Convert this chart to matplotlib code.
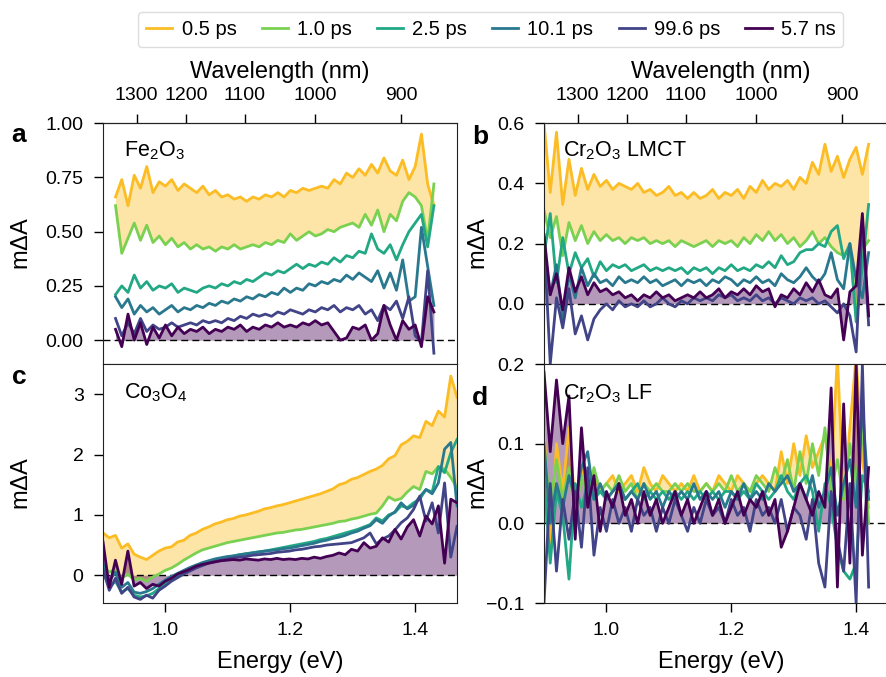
import matplotlib
matplotlib.use('Agg')
import matplotlib.pyplot as plt
import numpy as np

plt.rcParams['font.family'] = ['Liberation Sans', 'DejaVu Sans']
plt.rcParams['mathtext.fontset'] = 'custom'
plt.rcParams['mathtext.rm'] = 'Liberation Sans'
plt.rcParams['mathtext.it'] = 'Liberation Sans:italic'
plt.rcParams['mathtext.bf'] = 'Liberation Sans:bold'

labels = ['0.5 ps', '1.0 ps', '2.5 ps', '10.1 ps', '99.6 ps', '5.7 ns']
colors = ['#fbbc24', '#7ad151', '#22a884', '#2a788e', '#414487', '#440154']

# panel a, Fe2O3, 0.92 - 1.43 eV
fe_05 = [0.66, 0.74, 0.62, 0.76, 0.70, 0.80, 0.68, 0.73, 0.71, 0.74,
         0.69, 0.72, 0.70, 0.68, 0.71, 0.67, 0.69, 0.66, 0.67, 0.65,
         0.66, 0.64, 0.66, 0.65, 0.67, 0.66, 0.68, 0.66, 0.69, 0.68,
         0.70, 0.69, 0.70, 0.71, 0.70, 0.74, 0.72, 0.77, 0.75, 0.79,
         0.76, 0.81, 0.77, 0.84, 0.78, 0.76, 0.83, 0.74, 0.80, 0.95,
         0.72, 0.62]
fe_1 = [0.62, 0.40, 0.47, 0.54, 0.46, 0.53, 0.45, 0.48, 0.44, 0.47,
        0.43, 0.45, 0.42, 0.44, 0.42, 0.43, 0.41, 0.43, 0.42, 0.44,
        0.42, 0.43, 0.44, 0.43, 0.45, 0.44, 0.46, 0.45, 0.49, 0.46,
        0.48, 0.50, 0.48, 0.49, 0.51, 0.50, 0.52, 0.53, 0.54, 0.52,
        0.58, 0.53, 0.60, 0.50, 0.58, 0.55, 0.64, 0.68, 0.66, 0.62,
        0.46, 0.72]
fe_25 = [0.21, 0.25, 0.22, 0.30, 0.24, 0.27, 0.23, 0.25, 0.24, 0.26,
         0.22, 0.24, 0.23, 0.22, 0.24, 0.25, 0.24, 0.26, 0.25, 0.27,
         0.26, 0.28, 0.27, 0.29, 0.31, 0.30, 0.32, 0.31, 0.33, 0.35,
         0.33, 0.35, 0.34, 0.36, 0.35, 0.38, 0.36, 0.39, 0.38, 0.41,
         0.40, 0.49, 0.42, 0.40, 0.44, 0.37, 0.44, 0.50, 0.54, 0.58,
         0.43, 0.62]
fe_10 = [0.20, 0.15, 0.19, 0.12, 0.16, 0.13, 0.15, 0.12, 0.14, 0.16,
         0.13, 0.15, 0.14, 0.16, 0.15, 0.17, 0.16, 0.18, 0.17, 0.19,
         0.18, 0.20, 0.19, 0.21, 0.20, 0.22, 0.21, 0.24, 0.22, 0.24,
         0.23, 0.26, 0.25, 0.27, 0.26, 0.28, 0.27, 0.30, 0.28, 0.31,
         0.29, 0.27, 0.32, 0.24, 0.31, 0.23, 0.37, 0.18, 0.20, 0.52,
         0.34, 0.16]
fe_100 = [0.10, 0.02, 0.08, 0.03, 0.10, 0.04, 0.07, 0.05, 0.06, 0.08,
          0.06, 0.07, 0.08, 0.07, 0.09, 0.08, 0.09, 0.08, 0.10, 0.09,
          0.11, 0.10, 0.12, 0.11, 0.12, 0.11, 0.13, 0.12, 0.14, 0.13,
          0.12, 0.14, 0.13, 0.15, 0.14, 0.16, 0.13, 0.15, 0.14, 0.16,
          0.12, 0.14, 0.09, 0.16, 0.14, 0.18, 0.10, 0.20, 0.02, -0.01,
          0.32, -0.06]
fe_ns = [0.05, -0.03, 0.12, 0.00, 0.08, -0.02, 0.06, 0.01, 0.07, 0.02,
         0.06, 0.03, 0.05, 0.04, 0.06, 0.03, 0.05, 0.04, 0.06, 0.05,
         0.07, 0.04, 0.06, 0.05, 0.07, 0.06, 0.08, 0.06, 0.07, 0.06,
         0.08, 0.07, 0.09, 0.07, 0.08, 0.04, 0.00, 0.01, 0.06, 0.05,
         0.07, 0.00, 0.03, 0.16, 0.07, 0.00, 0.09, 0.05, 0.07, -0.03,
         0.20, 0.13]

# panel b, Cr2O3 LMCT, 0.90 - 1.42 eV
lmct_05 = [0.60, 0.37, 0.57, 0.33, 0.48, 0.36, 0.45, 0.38, 0.43, 0.39,
           0.41, 0.38, 0.40, 0.39, 0.38, 0.40, 0.37, 0.38, 0.36, 0.37,
           0.39, 0.36, 0.37, 0.35, 0.37, 0.35, 0.36, 0.38, 0.35, 0.37,
           0.36, 0.38, 0.35, 0.39, 0.37, 0.41, 0.38, 0.40, 0.39, 0.41,
           0.38, 0.42, 0.40, 0.47, 0.43, 0.53, 0.44, 0.49, 0.42, 0.48,
           0.52, 0.43, 0.53]
lmct_1 = [0.31, 0.22, 0.29, 0.16, 0.27, 0.21, 0.26, 0.20, 0.24, 0.21,
          0.23, 0.21, 0.22, 0.20, 0.22, 0.21, 0.22, 0.20, 0.21, 0.20,
          0.21, 0.19, 0.21, 0.20, 0.19, 0.20, 0.21, 0.19, 0.21, 0.20,
          0.21, 0.19, 0.22, 0.20, 0.23, 0.21, 0.24, 0.21, 0.23, 0.20,
          0.22, 0.19, 0.21, 0.24, 0.20, 0.22, 0.19, 0.17, 0.16, 0.19,
          -0.04, 0.18, 0.21]
lmct_25 = [0.16, 0.30, 0.07, 0.22, 0.10, 0.17, 0.12, 0.15, 0.09, 0.14,
           0.11, 0.13, 0.12, 0.13, 0.11, 0.12, 0.13, 0.11, 0.12, 0.11,
           0.12, 0.11, 0.12, 0.10, 0.12, 0.11, 0.12, 0.10, 0.12, 0.11,
           0.13, 0.11, 0.12, 0.11, 0.13, 0.12, 0.14, 0.12, 0.16, 0.13,
           0.14, 0.17, 0.18, 0.18, 0.20, 0.19, 0.24, 0.26, 0.15, 0.20,
           -0.06, 0.12, 0.33]
lmct_10 = [0.19, 0.03, 0.13, -0.05, 0.10, 0.02, 0.12, 0.06, 0.10, 0.07,
           0.08, 0.06, 0.09, 0.07, 0.08, 0.07, 0.09, 0.07, 0.08, 0.06,
           0.07, 0.08, 0.06, 0.08, 0.07, 0.08, 0.06, 0.08, 0.07, 0.09,
           0.08, 0.06, 0.08, 0.07, 0.09, 0.07, 0.08, 0.06, 0.10, 0.08,
           0.07, 0.09, 0.12, 0.09, 0.07, 0.10, 0.17, 0.08, 0.05, 0.20,
           0.08, 0.02, 0.17]
lmct_100 = [0.22, -0.20, 0.02, -0.08, 0.05, -0.10, -0.04, -0.12, -0.05, -0.02,
            0.00, -0.02, 0.01, -0.01, 0.00, -0.01, 0.01, -0.01, 0.00, 0.02,
            0.00, -0.01, 0.01, 0.00, 0.02, 0.01, 0.02, 0.01, 0.03, 0.02,
            0.03, 0.01, 0.02, 0.01, 0.03, 0.01, 0.02, 0.00, 0.02, 0.01,
            0.00, 0.02, 0.01, 0.02, 0.00, 0.01, -0.01, -0.03, 0.00, -0.04,
            -0.16, 0.28, -0.07]
lmct_ns = [0.23, 0.03, 0.10, -0.02, 0.12, 0.04, 0.09, 0.03, 0.07, 0.04,
           0.05, 0.03, 0.04, 0.02, 0.03, 0.01, 0.03, 0.02, 0.04, 0.02,
           0.03, 0.01, 0.02, 0.03, 0.02, 0.04, 0.02, 0.03, 0.05, 0.02,
           0.04, 0.03, 0.05, 0.03, 0.06, 0.04, 0.05, -0.01, 0.03, 0.02,
           0.05, 0.03, 0.07, 0.04, 0.08, 0.03, 0.02, 0.05, -0.12, 0.04,
           0.06, 0.30, -0.04]

# panel c, Co3O4, 0.90 - 1.467 eV
co_05 = [0.70, 0.62, 0.66, 0.45, 0.52, 0.35, 0.30, 0.26, 0.33, 0.40,
         0.45, 0.47, 0.55, 0.58, 0.66, 0.70, 0.76, 0.80, 0.85, 0.88,
         0.92, 0.94, 0.98, 1.00, 1.03, 1.06, 1.10, 1.12, 1.15, 1.17,
         1.20, 1.23, 1.26, 1.29, 1.32, 1.35, 1.39, 1.43, 1.50, 1.53,
         1.59, 1.62, 1.67, 1.72, 1.76, 1.82, 1.93, 1.98, 2.16, 2.22,
         2.31, 2.28, 2.55, 2.48, 2.72, 2.62, 3.30, 2.95]
co_1 = [0.15, 0.05, 0.10, -0.05, 0.02, -0.08, -0.05, -0.10, -0.03, 0.02,
        0.08, 0.12, 0.18, 0.25, 0.31, 0.37, 0.42, 0.45, 0.48, 0.51,
        0.54, 0.56, 0.58, 0.60, 0.62, 0.64, 0.66, 0.68, 0.70, 0.71,
        0.73, 0.75, 0.76, 0.78, 0.80, 0.82, 0.84, 0.86, 0.89, 0.90,
        0.93, 0.95, 0.98, 1.01, 1.03, 1.15, 1.30, 1.24, 1.27, 1.38,
        1.47, 1.42, 1.72, 1.68, 1.80, 1.76, 1.62, 1.45]
co_25 = [0.05, -0.20, -0.10, -0.28, -0.22, -0.33, -0.36, -0.34, -0.30, -0.22,
         -0.14, -0.08, -0.02, 0.04, 0.10, 0.15, 0.19, 0.23, 0.26, 0.28,
         0.30, 0.32, 0.34, 0.36, 0.37, 0.39, 0.40, 0.42, 0.44, 0.46,
         0.48, 0.50, 0.52, 0.54, 0.56, 0.59, 0.61, 0.64, 0.67, 0.70,
         0.73, 0.76, 0.80, 0.84, 0.95, 0.90, 1.00, 1.04, 1.15, 1.12,
         1.20, 1.26, 1.42, 1.38, 1.80, 1.70, 2.03, 2.25]
co_10 = [0.20, -0.10, 0.05, -0.20, -0.12, -0.28, -0.30, -0.27, -0.22, -0.15,
         -0.08, -0.02, 0.03, 0.08, 0.13, 0.17, 0.21, 0.24, 0.27, 0.29,
         0.31, 0.32, 0.34, 0.35, 0.37, 0.38, 0.40, 0.41, 0.42, 0.44,
         0.45, 0.47, 0.49, 0.51, 0.53, 0.56, 0.58, 0.61, 0.63, 0.66,
         0.70, 0.73, 0.78, 0.82, 0.92, 0.86, 0.98, 1.05, 1.20, 1.10,
         1.16, 1.30, 1.42, 1.35, 1.53, 2.09, 2.20, 1.15]
co_100 = [0.10, -0.25, -0.05, -0.30, -0.20, -0.36, -0.40, -0.33, -0.38, -0.25,
          -0.18, -0.10, -0.04, 0.02, 0.07, 0.12, 0.16, 0.20, 0.23, 0.25,
          0.27, 0.29, 0.30, 0.31, 0.33, 0.34, 0.35, 0.36, 0.38, 0.39,
          0.40, 0.42, 0.43, 0.45, 0.47, 0.48, 0.50, 0.51, 0.52, 0.53,
          0.54, 0.58, 0.62, 0.70, 0.52, 0.60, 0.65, 0.75, 0.87, 0.95,
          1.09, 1.31, 0.90, 1.20, 0.70, 1.53, 0.30, 0.81]
co_ns = [0.55, -0.20, 0.25, -0.15, 0.40, -0.18, -0.12, -0.22, -0.15, -0.18,
         -0.10, -0.05, 0.02, 0.06, 0.10, 0.15, 0.18, 0.20, 0.22, 0.24,
         0.25, 0.26, 0.25, 0.27, 0.26, 0.25, 0.27, 0.26, 0.28, 0.26,
         0.27, 0.26, 0.28, 0.27, 0.30, 0.28, 0.31, 0.33, 0.37, 0.34,
         0.43, 0.40, 0.54, 0.45, 0.48, 0.62, 0.55, 0.76, 0.60, 0.80,
         0.92, 0.65, 0.98, 0.85, 1.15, 0.20, 1.26, 1.20]

# panel d, Cr2O3 LF, 0.90 - 1.42 eV
lf_05 = [0.12, -0.03, 0.10, 0.04, 0.12, 0.02, 0.07, 0.03, 0.06, 0.04,
         0.05, 0.06, 0.04, 0.05, 0.06, 0.04, 0.07, 0.05, 0.04, 0.06,
         0.05, 0.04, 0.05, 0.04, 0.06, 0.04, 0.05, 0.04, 0.06, 0.05,
         0.04, 0.06, 0.05, 0.04, 0.05, 0.06, 0.05, 0.04, 0.09, 0.05,
         0.10, 0.06, 0.11, 0.07, 0.09, 0.11, 0.06, 0.21, 0.03, 0.12,
         0.21, 0.08, 0.02]
lf_1 = [0.10, 0.02, 0.08, 0.03, 0.07, 0.01, 0.06, 0.03, 0.07, 0.04,
        0.05, 0.04, 0.06, 0.04, 0.05, 0.03, 0.05, 0.04, 0.05, 0.04,
        0.04, 0.05, 0.04, 0.05, 0.04, 0.04, 0.05, 0.04, 0.05, 0.04,
        0.06, 0.04, 0.05, 0.04, 0.06, 0.05, 0.04, 0.07, 0.05, 0.08,
        0.04, 0.09, 0.05, 0.10, 0.06, 0.12, 0.04, 0.08, 0.03, 0.10,
        0.05, 0.12, 0.00]
lf_25 = [0.06, -0.05, 0.04, 0.01, -0.07, 0.05, 0.02, 0.05, 0.03, 0.04,
         0.03, 0.04, 0.05, 0.03, 0.04, 0.05, 0.03, 0.04, 0.03, 0.04,
         0.03, 0.04, 0.03, 0.04, 0.03, 0.04, 0.03, 0.04, 0.03, 0.04,
         0.04, 0.03, 0.04, 0.03, 0.05, 0.04, 0.03, 0.04, 0.06, 0.04,
         0.03, 0.05, 0.06, 0.04, -0.01, 0.05, 0.02, -0.03, -0.06, -0.07,
         -0.05, 0.06, 0.04]
lf_10 = [0.10, 0.00, 0.05, 0.02, 0.06, 0.03, 0.07, 0.09, 0.03, 0.05,
         0.03, 0.04, 0.05, 0.03, 0.04, 0.03, 0.05, 0.03, 0.04, 0.02,
         0.04, 0.03, 0.04, 0.03, 0.05, 0.03, 0.04, 0.03, 0.04, 0.02,
         0.04, 0.03, 0.05, 0.03, 0.04, 0.03, 0.05, 0.04, 0.05, 0.06,
         0.04, 0.05, 0.03, 0.06, 0.02, 0.04, 0.07, 0.01, 0.05, 0.08,
         0.02, 0.15, 0.03]
lf_100 = [-0.10, 0.05, -0.06, 0.03, -0.02, 0.04, -0.03, 0.07, -0.04, 0.02,
          -0.01, 0.03, 0.00, 0.02, -0.01, 0.03, 0.01, 0.02, -0.01, 0.02,
          0.00, 0.03, 0.01, -0.01, 0.02, 0.00, 0.03, 0.01, 0.02, 0.00,
          0.03, 0.01, 0.02, -0.01, 0.03, 0.01, 0.02, 0.00, 0.03, -0.01,
          0.02, 0.01, -0.02, 0.03, -0.05, -0.08, 0.04, -0.02, -0.06, 0.05,
          -0.10, 0.20, -0.08]
lf_ns = [0.19, 0.09, 0.18, 0.10, 0.16, -0.02, 0.12, 0.02, 0.06, -0.01,
         0.04, 0.02, 0.05, 0.01, 0.03, 0.00, 0.04, 0.01, 0.03, 0.00,
         0.02, 0.04, 0.01, 0.03, 0.00, 0.02, 0.04, 0.01, 0.03, 0.00,
         0.02, 0.04, 0.01, 0.03, 0.02, 0.04, 0.01, 0.03, -0.03, -0.01,
         0.02, 0.05, 0.03, 0.01, 0.04, 0.02, 0.17, -0.08, 0.15, -0.05,
         0.20, -0.04, 0.07]

wl_ticks = [1300, 1200, 1100, 1000, 900]


def e2wl(x):
    x = np.asarray(x, dtype=float)
    return 1239.84 / np.clip(x, 1e-3, None)


def draw_panel(ax, e0, e1, series):
    x = np.linspace(e0, e1, len(series[0]))
    ax.fill_between(x, series[0], series[1], color=colors[0], alpha=0.4, lw=0)
    ax.fill_between(x, series[5], 0, color=colors[5], alpha=0.4, lw=0)
    for y, c, lab in zip(series, colors, labels):
        ax.plot(x, y, color=c, lw=2.0, label=lab)
    ax.axhline(0, color='k', lw=1, ls=(0, (5, 3)), zorder=1)
    ax.set_xlim(0.9, 1.467)
    ax.tick_params(labelsize=14, length=6.5, width=1, pad=7.5)
    for s in ax.spines.values():
        s.set_color('#222222')


fig = plt.figure(figsize=(8.86, 6.77), dpi=100)
w = 0.3995
ax_a = fig.add_axes([0.1163, 0.4623, w, 0.3557])
ax_c = fig.add_axes([0.1163, 0.1093, w, 0.3530])
ax_b = fig.add_axes([0.6140, 0.4623, w, 0.3557])
ax_d = fig.add_axes([0.6140, 0.1093, w, 0.3530])

draw_panel(ax_a, 0.92, 1.43, [fe_05, fe_1, fe_25, fe_10, fe_100, fe_ns])
draw_panel(ax_b, 0.90, 1.42, [lmct_05, lmct_1, lmct_25, lmct_10, lmct_100, lmct_ns])
draw_panel(ax_c, 0.90, 1.467, [co_05, co_1, co_25, co_10, co_100, co_ns])
draw_panel(ax_d, 0.90, 1.42, [lf_05, lf_1, lf_25, lf_10, lf_100, lf_ns])

ax_a.set_ylim(-0.11, 1.0)
ax_a.set_yticks([0, 0.25, 0.5, 0.75, 1.0])
ax_c.set_ylim(-0.46, 3.5)
ax_c.set_yticks([0, 1, 2, 3])
ax_b.set_ylim(-0.2, 0.6)
ax_b.set_yticks([0, 0.2, 0.4, 0.6])
ax_d.set_ylim(-0.1, 0.2)
ax_d.set_yticks([-0.1, 0, 0.1, 0.2])

for ax in (ax_a, ax_b):
    ax.tick_params(bottom=False, labelbottom=False)
    sec = ax.secondary_xaxis('top', functions=(e2wl, e2wl))
    sec.set_xticks(wl_ticks)
    sec.tick_params(labelsize=14, length=6.5, width=1, pad=7)
    sec.set_xlabel('Wavelength (nm)', fontsize=17, labelpad=7)

for ax in (ax_c, ax_d):
    ax.set_xticks([1.0, 1.2, 1.4])
    ax.set_xlabel('Energy (eV)', fontsize=17, labelpad=8)

for ax in (ax_a, ax_c):
    ax.set_ylabel('m$\\Delta$A', fontsize=17)
    ax.yaxis.set_label_coords(-0.198, 0.5)
for ax in (ax_b, ax_d):
    ax.set_ylabel('m$\\Delta$A', fontsize=17)
    ax.yaxis.set_label_coords(-0.152, 0.5)

ax_a.text(0.06, 0.885, 'Fe$_2$O$_3$', transform=ax_a.transAxes, fontsize=15.5, va='center')
ax_b.text(0.054, 0.885, 'Cr$_2$O$_3$ LMCT', transform=ax_b.transAxes, fontsize=15.5, va='center')
ax_c.text(0.06, 0.88, 'Co$_3$O$_4$', transform=ax_c.transAxes, fontsize=15.5, va='center')
ax_d.text(0.054, 0.875, 'Cr$_2$O$_3$ LF', transform=ax_d.transAxes, fontsize=15.5, va='center')

for lab, xp, yp in [('a', 0.013, 0.80), ('b', 0.533, 0.797),
                    ('c', 0.013, 0.443), ('d', 0.533, 0.412)]:
    fig.text(xp, yp, lab, fontsize=19, fontweight='bold', va='center')

handles, labs = ax_a.get_legend_handles_labels()
fig.legend(handles, labs, loc='center', bbox_to_anchor=(0.554, 0.957), ncol=6,
           fontsize=14.5, handlelength=1.3, columnspacing=1.25, handletextpad=0.45,
           framealpha=1, edgecolor='#dddddd')

fig.savefig('out.png', dpi=100)
